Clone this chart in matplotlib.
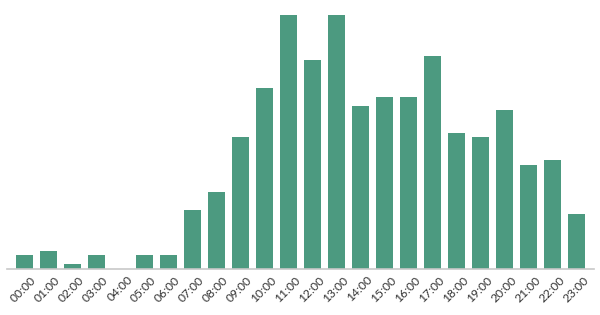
import matplotlib
matplotlib.use("Agg")
import matplotlib.pyplot as plt
import matplotlib.transforms as mtrans

hours = [f"{h:02d}:00" for h in range(24)]
counts = [3, 4, 1, 3, 0, 3, 3, 13, 17, 29, 40, 56, 46, 56, 36, 38, 38, 47, 30, 29, 35, 23, 24, 12]

plt.rcParams['font.family'] = ['Lato', 'DejaVu Sans']
fig = plt.figure(figsize=(6, 3.15), dpi=100)
ax = fig.add_axes([0.0122, 0.147, 0.977, 0.805])
x = list(range(len(hours)))
ax.bar(x, counts, width=0.73, color='#4c9a80')
ax.set_xlim(-0.72, 23.7)
ax.set_ylim(0, 56)
for s in ['top', 'right', 'left']:
    ax.spines[s].set_visible(False)
ax.spines['bottom'].set_color('#c8c8c8')
ax.spines['bottom'].set_linewidth(1.2)
ax.set_yticks([])
ax.set_xticks(x)
ax.set_xticklabels(hours, rotation=45, ha='right', rotation_mode='anchor', fontsize=8.7, color='#333333')
ax.tick_params(axis='x', length=0, pad=4)
offset = mtrans.ScaledTranslation(6 / 100, 0, fig.dpi_scale_trans)
for lbl in ax.get_xticklabels():
    lbl.set_transform(lbl.get_transform() + offset)
fig.savefig('out.png', dpi=100)
